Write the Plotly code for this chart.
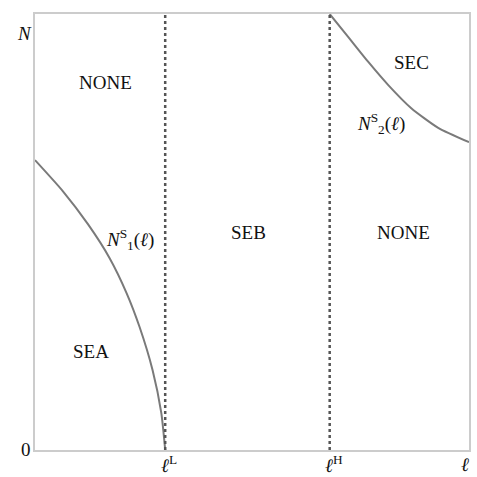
import plotly.graph_objects as go

# Threshold positions (fraction of ℓ axis)
ell_L = 0.300
ell_H = 0.679

# Curve N1^S(ℓ)
n1_x = [0.000, 0.064, 0.122, 0.172, 0.211, 0.241, 0.271, 0.291, 0.300]
n1_y = [0.665, 0.594, 0.518, 0.440, 0.360, 0.282, 0.183, 0.085, 0.000]

# Curve N2^S(ℓ)
n2_x = [0.679, 0.722, 0.768, 0.814, 0.867, 0.929, 1.000]
n2_y = [1.000, 0.947, 0.890, 0.837, 0.784, 0.739, 0.706]

# Region labels
region_text = ["NONE", "SEC", "SEB", "NONE", "SEA",
               "<i>N</i><sup>S</sup><sub>2</sub>(<i>ℓ</i>)",
               "<i>N</i><sup>S</sup><sub>1</sub>(<i>ℓ</i>)"]
region_x = [0.163, 0.867, 0.491, 0.849, 0.128, 0.798, 0.220]
region_y = [0.842, 0.888, 0.500, 0.500, 0.227, 0.748, 0.482]

# Axis tick labels
xtick_vals = [ell_L, ell_H, 1.0]
xtick_text = ["<i>ℓ</i><sup>L</sup>", "<i>ℓ</i><sup>H</sup>", "<i>ℓ</i>"]

FONT = "Liberation Serif"

fig = go.Figure()
fig.add_trace(go.Scatter(x=n1_x, y=n1_y, mode="lines",
                         line=dict(color="#7a7a7a", width=2, shape="spline", smoothing=0.6),
                         hoverinfo="skip", showlegend=False))
fig.add_trace(go.Scatter(x=n2_x, y=n2_y, mode="lines",
                         line=dict(color="#7a7a7a", width=2, shape="spline", smoothing=0.6),
                         hoverinfo="skip", showlegend=False))
for xv in [ell_L, ell_H]:
    fig.add_trace(go.Scatter(x=[xv, xv], y=[0, 1], mode="lines",
                             line=dict(color="#555555", width=2.5, dash="dot"),
                             hoverinfo="skip", showlegend=False))

for t, x, y in zip(region_text, region_x, region_y):
    fig.add_annotation(x=x, y=y, text=t, showarrow=False, font=dict(family=FONT, size=19, color="#111"))

for t, x in zip(xtick_text, xtick_vals):
    fig.add_annotation(x=x, y=0, yref="y", text=t, showarrow=False, yshift=-14,
                       xshift=(-4 if x >= 1.0 else 4),
                       font=dict(family=FONT, size=19, color="#111"))

fig.add_annotation(x=0, y=0, xref="paper", yref="paper", text="0", showarrow=False,
                   xshift=-16, yshift=-12, font=dict(family=FONT, size=19, color="#111"))
fig.add_annotation(x=0, y=1, xref="paper", yref="paper", text="<i>N</i>", showarrow=False,
                   xshift=-20, yshift=-7, font=dict(family=FONT, size=19, color="#111"))

fig.update_xaxes(range=[0, 1], showgrid=False, zeroline=False, showticklabels=False,
                 showline=True, linecolor="#cccccc", linewidth=2, mirror=True)
fig.update_yaxes(range=[0, 1], showgrid=False, zeroline=False, showticklabels=False,
                 showline=True, linecolor="#cccccc", linewidth=2, mirror=True)
fig.update_layout(width=477, height=477, margin=dict(l=35, r=6, t=14, b=27),
                  plot_bgcolor="white", paper_bgcolor="white")
fig.write_html("out.html", config={"displayModeBar": False},
               post_script="document.body.style.margin='0';document.body.style.overflow='hidden';")
